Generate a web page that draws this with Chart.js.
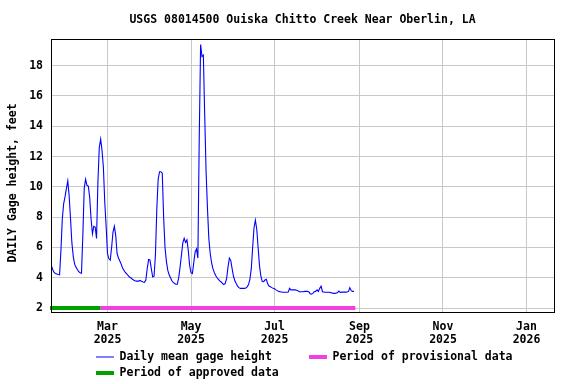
<!DOCTYPE html>
<html>
<head>
<meta charset="utf-8">
<script src="https://cdn.jsdelivr.net/npm/chart.js@4/dist/chart.umd.min.js"></script>
<style>
  html, body { margin: 0; padding: 0; background: #ffffff; }
  #wrap { width: 576px; height: 384px; position: relative; }
</style>
</head>
<body>
<div id="wrap"><canvas id="c" width="576" height="384"></canvas></div>
<script>
// ---------- DATA ----------
const chartTitle = 'USGS 08014500 Ouiska Chitto Creek Near Oberlin, LA';
const yAxisTitle = 'DAILY Gage height, feet';
const seriesNames = ['Daily mean gage height', 'Period of provisional data', 'Period of approved data'];

// daily mean gage height (feet), one value per day starting at startDate
const startDate = '2025-01-19';
const gageHeight = [
  4.8, 4.55, 4.35, 4.28, 4.25, 4.22, 4.2, 5.8, 7.9, 8.9,
  9.35, 9.9, 10.4, 9.4, 7.9, 6.3, 5.4, 4.9, 4.7, 4.55,
  4.4, 4.33, 4.3, 6.8, 9.9, 10.5, 10.1, 10.05, 9.3, 7.9,
  6.9, 7.4, 7.35, 6.6, 10.3, 12.6, 13.15, 12.4, 11.3, 9.0,
  7.4, 5.6, 5.25, 5.17, 6.0, 7.0, 7.4, 6.8, 5.6, 5.3,
  5.1, 4.9, 4.65, 4.5, 4.35, 4.25, 4.15, 4.05, 4.0, 3.92,
  3.85, 3.8, 3.78, 3.78, 3.78, 3.83, 3.75, 3.72, 3.7, 3.85,
  4.6, 5.2, 5.17, 4.6, 4.05, 4.1, 5.5, 8.5, 10.5, 11.0,
  11.0, 10.9, 8.0, 6.0, 5.1, 4.5, 4.2, 4.0, 3.8, 3.7,
  3.62, 3.57, 3.58, 4.0, 4.7, 5.5, 6.3, 6.6, 6.33, 6.5,
  5.8, 4.8, 4.33, 4.27, 5.0, 5.7, 5.9, 5.3, 13.2, 19.4,
  18.6, 18.7, 14.7, 11.0, 8.6, 6.6, 5.6, 5.0, 4.6, 4.35,
  4.15, 4.0, 3.9, 3.8, 3.72, 3.62, 3.55, 3.62, 3.95, 4.7,
  5.3, 5.15, 4.6, 4.1, 3.8, 3.62, 3.45, 3.35, 3.3, 3.3,
  3.3, 3.3, 3.33, 3.4, 3.55, 3.9, 4.6, 6.0, 7.3, 7.8,
  7.2, 6.0, 4.8, 4.1, 3.75, 3.74, 3.85, 3.9, 3.6, 3.45,
  3.4, 3.35, 3.3, 3.27, 3.2, 3.15, 3.1, 3.08, 3.06, 3.04,
  3.04, 3.04, 3.04, 3.06, 3.3, 3.2, 3.2, 3.2, 3.2, 3.18,
  3.15, 3.08, 3.08, 3.08, 3.08, 3.1, 3.1, 3.1, 3.08, 2.95,
  2.92, 2.97, 3.08, 3.1, 3.2, 3.1, 3.3, 3.45, 3.08, 3.06,
  3.04, 3.04, 3.04, 3.04, 3.02, 3.0, 2.97, 2.97, 2.98, 3.02,
  3.12, 3.03, 3.05, 3.05, 3.05, 3.05, 3.06, 3.1, 3.35, 3.15,
  3.1, 3.1
];

// data-quality periods [start, end]
const approvedPeriod = ['2025-01-18', '2025-02-24'];
const provisionalPeriod = ['2025-02-24', '2025-08-29'];
const periodLevel = 2;   // gage height (ft) at which the period bars sit

// axis
const xTickDates = ['2025-03-01', '2025-05-01', '2025-07-01', '2025-09-01', '2025-11-01', '2026-01-01'];
const xTickLabels = [['Mar', '2025'], ['May', '2025'], ['Jul', '2025'], ['Sep', '2025'], ['Nov', '2025'], ['Jan', '2026']];
const xRangeDays = [17.74, 385.08];   // days since 2025-01-01
const yTicks = [2, 4, 6, 8, 10, 12, 14, 16, 18];
const yRange = [1.74, 19.76];

// ---------- HELPERS ----------
function dayNum(s) {
  const p = s.split('-').map(Number);
  return (Date.UTC(p[0], p[1] - 1, p[2]) - Date.UTC(2025, 0, 1)) / 86400000;
}
const start = dayNum(startDate);
const linePoints = gageHeight.map((v, i) => ({ x: start + i, y: v }));
const approvedPts = approvedPeriod.map(d => ({ x: dayNum(d), y: periodLevel }));
const provisionalPts = provisionalPeriod.map(d => ({ x: dayNum(d), y: periodLevel }));
const xTickVals = xTickDates.map(dayNum);

const FONT = '"DejaVu Sans Mono", "Liberation Mono", monospace';
const BLUE = '#0000ff', GREEN = '#00a000', PINK = '#f040e0';

const decor = {
  id: 'decor',
  afterDatasetsDraw(chart) {
    const ctx = chart.ctx, a = chart.chartArea;
    ctx.save();
    ctx.strokeStyle = '#000';
    ctx.lineWidth = 1;
    ctx.strokeRect(Math.round(a.left) + 0.5, Math.round(a.top) + 0.5,
                   Math.round(a.right - a.left), Math.round(a.bottom - a.top));
    ctx.restore();
  },
  afterDraw(chart) {
    const ctx = chart.ctx, a = chart.chartArea;
    ctx.save();
    ctx.fillStyle = '#000';
    ctx.font = 'bold 11.5px ' + FONT;
    ctx.textBaseline = 'middle';
    // title
    ctx.textAlign = 'center';
    ctx.fillText(chartTitle, (a.left + a.right) / 2, 20.5);
    // y title
    ctx.save();
    ctx.translate(13, 183);
    ctx.rotate(-Math.PI / 2);
    ctx.fillText(yAxisTitle, 0, 0);
    ctx.restore();
    // legend
    ctx.textAlign = 'left';
    const items = [
      { x: 96, y: 357, color: BLUE, w: 1, text: seriesNames[0] },
      { x: 309, y: 357, color: PINK, w: 4, text: seriesNames[1] },
      { x: 96, y: 373, color: GREEN, w: 4, text: seriesNames[2] }
    ];
    items.forEach(it => {
      ctx.strokeStyle = it.color;
      ctx.lineWidth = it.w;
      ctx.beginPath();
      ctx.moveTo(it.x, it.y);
      ctx.lineTo(it.x + 18, it.y);
      ctx.stroke();
      ctx.fillText(it.text, it.x + 23.5, it.y + 0.5);
    });
    ctx.restore();
  }
};

new Chart(document.getElementById('c'), {
  type: 'line',
  data: {
    datasets: [
      { label: seriesNames[0], data: linePoints, borderColor: BLUE, borderWidth: 1.1,
        pointRadius: 0, tension: 0, fill: false, order: 0 },
      { label: seriesNames[1], data: provisionalPts, borderColor: PINK, borderWidth: 4,
        pointRadius: 0, borderCapStyle: 'butt', clip: false, order: 1 },
      { label: seriesNames[2], data: approvedPts, borderColor: GREEN, borderWidth: 4,
        pointRadius: 0, borderCapStyle: 'butt', clip: false, order: 1 }
    ]
  },
  options: {
    responsive: false,
    animation: false,
    devicePixelRatio: 1,
    parsing: false,
    layout: { padding: { top: 39, right: 22, left: 0, bottom: 0 } },
    plugins: { legend: { display: false }, title: { display: false }, tooltip: { enabled: false } },
    scales: {
      x: {
        type: 'linear',
        min: xRangeDays[0],
        max: xRangeDays[1],
        afterBuildTicks: s => { s.ticks = xTickVals.map(v => ({ value: v })); },
        afterFit: s => { s.height = 72; },
        grid: { color: '#c8c8c8', lineWidth: 1, drawTicks: false },
        border: { display: false },
        ticks: {
          padding: 9,
          maxRotation: 0,
          autoSkip: false,
          color: '#000',
          font: { family: FONT, weight: 'bold', size: 11.5, lineHeight: 1.13 },
          callback: v => { const i = xTickVals.indexOf(v); return i >= 0 ? xTickLabels[i] : ''; }
        }
      },
      y: {
        min: yRange[0],
        max: yRange[1],
        afterBuildTicks: s => { s.ticks = yTicks.map(v => ({ value: v })); },
        afterFit: s => { s.width = 51; },
        grid: { color: '#c8c8c8', lineWidth: 1, drawTicks: false },
        border: { display: false },
        ticks: {
          padding: 8,
          color: '#000',
          font: { family: FONT, weight: 'bold', size: 11.5 },
          callback: v => String(v)
        }
      }
    }
  },
  plugins: [decor]
});
</script>
</body>
</html>
